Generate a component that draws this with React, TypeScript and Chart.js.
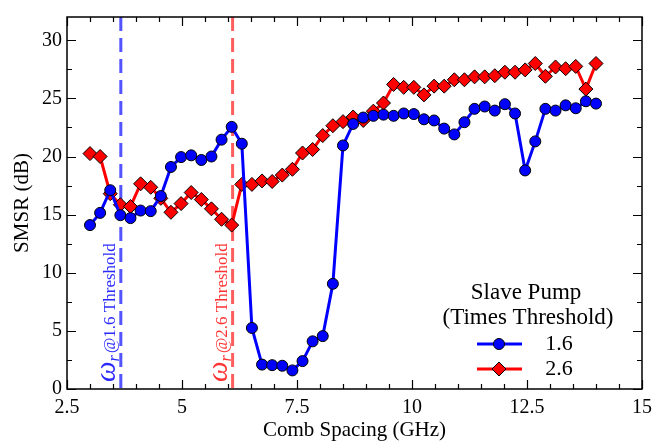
import React, { useEffect, useRef } from "react";
import { Chart, registerables } from "chart.js";

Chart.register(...registerables);

const combSpacing = [
  3.0, 3.22, 3.44, 3.66, 3.88, 4.1, 4.32, 4.54, 4.76, 4.98, 5.2, 5.42, 5.64, 5.86, 6.08, 6.3, 6.52,
  6.74, 6.96, 7.18, 7.4, 7.62, 7.84, 8.06, 8.28, 8.5, 8.72, 8.94, 9.16, 9.38, 9.6, 9.82, 10.04,
  10.26, 10.48, 10.7, 10.92, 11.14, 11.36, 11.58, 11.8, 12.02, 12.24, 12.46, 12.68, 12.9, 13.12,
  13.34, 13.56, 13.78, 14.0,
];

const smsr16 = [
  14.1, 15.15, 17.1, 14.95, 14.7, 15.35, 15.3, 16.6, 19.1, 19.95, 20.1, 19.7, 20.0, 21.45, 22.55,
  21.1, 5.25, 2.1, 2.05, 2.0, 1.6, 2.4, 4.1, 4.55, 9.05, 20.95, 22.8, 23.35, 23.5, 23.6, 23.5,
  23.7, 23.65, 23.2, 23.1, 22.4, 21.9, 22.95, 24.1, 24.3, 23.95, 24.5, 23.7, 18.8, 21.3, 24.1,
  23.95, 24.4, 24.15, 24.75, 24.55,
];

const smsr26 = [
  20.25, 20.0, 16.8, 15.85, 15.7, 17.65, 17.35, 16.4, 15.2, 15.95, 16.9, 16.3, 15.5, 14.6, 14.1,
  17.6, 17.6, 17.9, 17.85, 18.4, 18.9, 20.3, 20.6, 21.8, 22.65, 23.0, 23.4, 23.1, 23.9, 24.6,
  26.2, 25.95, 25.95, 25.3, 26.05, 26.05, 26.6, 26.6, 26.85, 26.85, 26.95, 27.25, 27.25, 27.45,
  28.0, 26.9, 27.7, 27.55, 27.75, 25.8, 28.0,
];

const seriesLabels = ["1.6", "2.6"];
const thresholdValues = [3.67, 6.1];
const thresholdTexts = ["@1.6 Threshold", "@2.6 Threshold"];
const legendTitle = ["Slave Pump", "(Times Threshold)"];

const SERIF = "'Liberation Serif', 'Times New Roman', Times, serif";
const BLUE = "#0000ff";
const RED = "#ff0000";

const framePlugin = {
  id: "frameTicks",
  beforeDatasetsDraw(chart: any) {
    const { ctx, chartArea: a, scales } = chart;
    const x = scales.x;
    const colors = ["rgba(40,40,255,0.8)", "rgba(255,40,40,0.75)"];
    const textColors = ["#2a2aff", "#ff3333"];
    thresholdValues.forEach((v, i) => {
      const px = x.getPixelForValue(v);
      ctx.save();
      ctx.strokeStyle = colors[i];
      ctx.lineWidth = 3;
      ctx.setLineDash([14, 7]);
      ctx.beginPath();
      ctx.moveTo(px, a.top);
      ctx.lineTo(px, a.bottom);
      ctx.stroke();
      ctx.restore();

      ctx.save();
      ctx.translate(px - 6, 382);
      ctx.rotate(-Math.PI / 2);
      ctx.fillStyle = textColors[i];
      ctx.textBaseline = "alphabetic";
      ctx.textAlign = "left";
      let cx = 0;
      ctx.font = `italic 29px ${SERIF}`;
      ctx.fillText("\u03c9", cx, 0);
      cx += ctx.measureText("\u03c9").width;
      ctx.font = `italic 16px ${SERIF}`;
      ctx.fillText("r", cx, 4);
      cx += ctx.measureText("r").width + 2;
      ctx.font = `17px ${SERIF}`;
      ctx.fillText(thresholdTexts[i], cx, 0);
      ctx.restore();
    });
  },
  afterDraw(chart: any) {
    const { ctx, chartArea: a, scales } = chart;
    const x = scales.x;
    const y = scales.y;
    ctx.save();
    ctx.strokeStyle = "#000";
    ctx.lineWidth = 1.5;
    ctx.strokeRect(a.left, a.top, a.right - a.left, a.bottom - a.top);
    ctx.lineWidth = 1.2;
    ctx.beginPath();
    for (let k = 0; k <= 25; k++) {
      const v = 2.5 + k * 0.5;
      const px = Math.round(x.getPixelForValue(v)) + 0.5;
      const len = k % 5 === 0 ? 9 : 5;
      ctx.moveTo(px, a.bottom);
      ctx.lineTo(px, a.bottom - len);
      ctx.moveTo(px, a.top);
      ctx.lineTo(px, a.top + len);
    }
    for (let k = 0; k <= 12; k++) {
      const v = k * 2.5;
      const py = Math.round(y.getPixelForValue(v)) + 0.5;
      const len = k % 2 === 0 ? 9 : 5;
      ctx.moveTo(a.left, py);
      ctx.lineTo(a.left + len, py);
      ctx.moveTo(a.right, py);
      ctx.lineTo(a.right - len, py);
    }
    ctx.stroke();
    ctx.restore();

    // legend
    ctx.save();
    ctx.fillStyle = "#000";
    ctx.textAlign = "center";
    ctx.textBaseline = "middle";
    ctx.font = `23px ${SERIF}`;
    ctx.fillText(legendTitle[0], 526, 293);
    ctx.fillText(legendTitle[1], 528, 318);
    const rows = [344, 369];
    chart.data.datasets.forEach((ds: any, i: number) => {
      const ly = rows[i];
      ctx.strokeStyle = ds.borderColor;
      ctx.lineWidth = 3;
      ctx.beginPath();
      ctx.moveTo(477, ly);
      ctx.lineTo(522, ly);
      ctx.stroke();
      ctx.fillStyle = ds.pointBackgroundColor;
      ctx.strokeStyle = "#000";
      ctx.lineWidth = 1;
      ctx.beginPath();
      if (ds.pointStyle === "rectRot") {
        const r = ds.pointRadius;
        ctx.moveTo(499, ly - r);
        ctx.lineTo(499 + r, ly);
        ctx.lineTo(499, ly + r);
        ctx.lineTo(499 - r, ly);
        ctx.closePath();
      } else {
        ctx.arc(499, ly, ds.pointRadius, 0, Math.PI * 2);
      }
      ctx.fill();
      ctx.stroke();
      ctx.fillStyle = "#000";
      ctx.font = `22px ${SERIF}`;
      ctx.fillText(ds.label, 559, ly);
    });
    ctx.restore();
  },
};

export default function App() {
  const canvasRef = useRef<HTMLCanvasElement | null>(null);

  useEffect(() => {
    if (!canvasRef.current) return;
    const chart = new Chart(canvasRef.current, {
      type: "line",
      data: {
        datasets: [
          {
            label: seriesLabels[0],
            data: combSpacing.map((c, i) => ({ x: c, y: smsr16[i] })),
            borderColor: BLUE,
            backgroundColor: BLUE,
            pointBackgroundColor: BLUE,
            pointBorderColor: "#000",
            pointBorderWidth: 1,
            pointRadius: 5.5,
            pointStyle: "circle",
            borderWidth: 3,
            tension: 0,
          },
          {
            label: seriesLabels[1],
            data: combSpacing.map((c, i) => ({ x: c, y: smsr26[i] })),
            borderColor: RED,
            backgroundColor: RED,
            pointBackgroundColor: RED,
            pointBorderColor: "#000",
            pointBorderWidth: 1,
            pointRadius: 7,
            pointStyle: "rectRot",
            borderWidth: 3,
            tension: 0,
          },
        ],
      },
      options: {
        responsive: false,
        animation: false,
        layout: { padding: { top: 12, right: 18, left: 0, bottom: 0 } },
        plugins: { legend: { display: false }, tooltip: { enabled: false } },
        scales: {
          x: {
            type: "linear",
            min: 2.5,
            max: 15,
            grid: { display: false, drawTicks: false },
            border: { display: false },
            ticks: {
              stepSize: 2.5,
              includeBounds: false,
              autoSkip: false,
              maxRotation: 0,
              padding: 7,
              color: "#000",
              font: { family: SERIF, size: 20 },
            },
            title: {
              display: true,
              text: "Comb Spacing (GHz)",
              color: "#000",
              font: { family: SERIF, size: 21 },
              padding: { top: 0, bottom: 2 },
            },
            afterFit: (s: any) => {
              s.height = 56;
            },
          },
          y: {
            type: "linear",
            min: 0,
            max: 32,
            grid: { display: false, drawTicks: false },
            border: { display: false },
            ticks: {
              stepSize: 5,
              includeBounds: false,
              padding: 5,
              color: "#000",
              font: { family: SERIF, size: 20 },
            },
            title: {
              display: true,
              text: "SMSR (dB)",
              color: "#000",
              font: { family: SERIF, size: 21 },
              padding: { top: 10, bottom: 0 },
            },
            afterFit: (s: any) => {
              s.width = 67;
            },
          },
        },
      },
      plugins: [framePlugin],
    });
    return () => chart.destroy();
  }, []);

  return (
    <div style={{ position: "fixed", left: 0, top: 0, width: 660, height: 445, background: "#fff" }}>
      <canvas ref={canvasRef} width={660} height={445} style={{ display: "block" }} />
    </div>
  );
}
